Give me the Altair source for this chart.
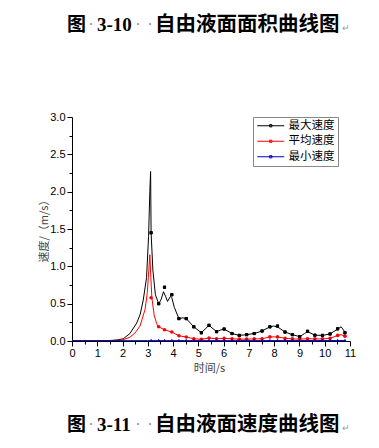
import altair as alt
import pandas as pd

# ---------------- data ----------------
SERIES = ["最大速度", "平均速度", "最小速度"]
COLORS = ["#000000", "#ff0000", "#0000cc"]
SHAPES = ["square", "circle", "triangle-up"]

# sample (marker) times
marker_t = [3.13, 3.43, 3.66, 3.95, 4.23, 4.52, 4.82, 5.12, 5.42, 5.72, 6.02, 6.33, 6.62, 6.91,
            7.21, 7.52, 7.83, 8.13, 8.43, 8.72, 9.01, 9.32, 9.61, 9.91, 10.21, 10.51, 10.8]
max_marker_v = [1.45, 0.50, 0.72, 0.62, 0.30, 0.30, 0.19, 0.11, 0.21, 0.125, 0.16, 0.10, 0.075, 0.085,
                0.10, 0.134, 0.19, 0.20, 0.12, 0.085, 0.058, 0.13, 0.078, 0.075, 0.094, 0.163, 0.11]
avg_marker_v = [0.58, 0.19, 0.15, 0.12, 0.07, 0.053, 0.03, 0.022, 0.04, 0.03, 0.035, 0.03, 0.025, 0.025,
                0.028, 0.03, 0.055, 0.055, 0.035, 0.028, 0.025, 0.03, 0.028, 0.028, 0.035, 0.075, 0.065]
min_marker_v = [0.012, 0.012, 0.012, 0.012, 0.012, 0.012, 0.012, 0.012, 0.012, 0.012, 0.012, 0.012, 0.012, 0.012,
                0.012, 0.012, 0.012, 0.012, 0.012, 0.012, 0.012, 0.012, 0.012, 0.012, 0.012, 0.012, 0.012]

# curve traces
max_line_t = [0, 1.0, 1.5, 1.8, 2.03, 2.29, 2.56, 2.7, 2.82, 2.95, 3.03, 3.08, 3.11, 3.13, 3.2, 3.3,
              3.43, 3.52, 3.62, 3.7, 3.78, 3.9, 3.95, 4.05, 4.23, 4.38, 4.52, 4.82, 5.12, 5.3, 5.42,
              5.72, 5.9, 6.02, 6.33, 6.62, 6.91, 7.21, 7.52, 7.83, 7.98, 8.13, 8.43, 8.72, 9.01, 9.2,
              9.32, 9.61, 9.91, 10.21, 10.51, 10.65, 10.8]
max_line_v = [0, 0.001, 0.006, 0.015, 0.03, 0.1, 0.24, 0.36, 0.55, 0.85, 1.4, 2.0, 2.27, 1.45, 0.95, 0.62,
              0.5, 0.55, 0.66, 0.6, 0.53, 0.6, 0.58, 0.45, 0.3, 0.31, 0.3, 0.19, 0.11, 0.17, 0.21,
              0.125, 0.15, 0.16, 0.10, 0.075, 0.085, 0.10, 0.134, 0.19, 0.2, 0.19, 0.12, 0.085, 0.058, 0.1,
              0.125, 0.078, 0.075, 0.094, 0.16, 0.19, 0.12]
avg_line_t = [0, 1.0, 1.5, 2.0, 2.29, 2.5, 2.69, 2.89, 2.98, 3.04, 3.08, 3.12, 3.16, 3.25, 3.35,
              3.43, 3.66, 3.95, 4.23, 4.52, 4.82, 5.12, 5.42, 5.72, 6.02, 6.33, 6.62, 6.91,
              7.21, 7.52, 7.83, 8.13, 8.43, 8.72, 9.01, 9.32, 9.61, 9.91, 10.21, 10.51, 10.65, 10.8]
avg_line_v = [0, 0.001, 0.003, 0.015, 0.05, 0.11, 0.2, 0.42, 0.65, 0.95, 1.155, 0.85, 0.58, 0.35, 0.23,
              0.19, 0.15, 0.12, 0.07, 0.053, 0.03, 0.022, 0.04, 0.03, 0.035, 0.03, 0.025, 0.025,
              0.028, 0.03, 0.055, 0.055, 0.035, 0.028, 0.025, 0.03, 0.028, 0.028, 0.035, 0.075, 0.085, 0.065]
min_line_t = [0, 3.0, 10.8]
min_line_v = [0.004, 0.005, 0.006]

x_ticks = [i * 0.5 for i in range(23)]
y_ticks = [i * 0.25 for i in range(13)]

# ---------------- tables ----------------
lines = pd.concat([
    pd.DataFrame({"t": max_line_t, "v": max_line_v, "s": SERIES[0], "o": range(len(max_line_t))}),
    pd.DataFrame({"t": avg_line_t, "v": avg_line_v, "s": SERIES[1], "o": range(len(avg_line_t))}),
    pd.DataFrame({"t": min_line_t, "v": min_line_v, "s": SERIES[2], "o": range(len(min_line_t))}),
])
marker_tables = [
    pd.DataFrame({"t": marker_t, "v": max_marker_v, "s": SERIES[0]}),
    pd.DataFrame({"t": marker_t, "v": avg_marker_v, "s": SERIES[1]}),
    pd.DataFrame({"t": marker_t, "v": min_marker_v, "s": SERIES[2]}),
]
marker_sizes = [9, 13, 11]

AXIS_FONT = "Liberation Sans"
CJK = "Noto Sans CJK SC"

x_scale = alt.Scale(domain=[0, 11], nice=False, zero=False)
y_scale = alt.Scale(domain=[0, 3], nice=False)


def x_axis():
    return alt.Axis(
        values=x_ticks, title="时间/s", grid=False,
        labelExpr="datum.value % 1 == 0 ? format(datum.value, 'd') : ''",
        tickSize={"condition": {"test": "datum.value % 1 == 0", "value": 5}, "value": 3},
        labelFont=AXIS_FONT, labelFontSize=11, labelColor="#000", labelPadding=1,
        titleFont=CJK, titleFontSize=11, titleColor="#444", titleFontWeight="normal",
        titleX=137, titleY=27, titleAnchor="middle", titleBaseline="middle",
        domainColor="#000", tickColor="#000", labelFlush=False, labelOverlap=False,
    )


def y_axis():
    return alt.Axis(
        values=y_ticks, title="速度/（m/s）", grid=False,
        labelExpr="datum.value % 0.5 == 0 ? format(datum.value, '.1f') : ''",
        tickSize={"condition": {"test": "datum.value % 0.5 == 0", "value": 5}, "value": 3},
        labelFont=AXIS_FONT, labelFontSize=11, labelColor="#000", labelPadding=2,
        titleFont=CJK, titleFontSize=11, titleColor="#444", titleFontWeight="normal",
        titleX=-28, titleY=111, titleAngle=-90, titleAnchor="middle", titleBaseline="middle",
        domainColor="#000", tickColor="#000", labelFlush=False, labelOverlap=False,
    )


def color_enc(legend):
    return alt.Color("s:N", scale=alt.Scale(domain=SERIES, range=COLORS), legend=legend)


line_layer = alt.Chart(lines).mark_line(strokeWidth=1, clip=True).encode(
    x=alt.X("t:Q", scale=x_scale, axis=x_axis()),
    y=alt.Y("v:Q", scale=y_scale, axis=y_axis()),
    color=color_enc(None),
    detail="s:N",
    order="o:Q",
)

point_layers = []
for tbl, shp, sz in zip(marker_tables, SHAPES, marker_sizes):
    point_layers.append(
        alt.Chart(tbl).mark_point(filled=True, opacity=1, size=sz, shape=shp).encode(
            x=alt.X("t:Q", scale=x_scale, axis=x_axis()),
            y=alt.Y("v:Q", scale=y_scale, axis=y_axis()),
            color=color_enc(None),
        )
    )

legend = alt.Legend(
    title=None, orient="none", legendX=181, legendY=0,
    symbolType="M-1,0H5M1.75,-0.25H2.25V0.25H1.75Z",
    symbolSize=81, symbolStrokeWidth=1,
    labelFont=CJK, labelFontSize=11.5, labelColor="#000", labelOffset=21,
    padding=3, strokeColor="#888", fillColor="#fff", rowPadding=2.5,
)
# thin outline squares over the black markers; this layer carries the legend
legend_layer = alt.Chart(marker_tables[0]).mark_point(
    filled=False, opacity=1, size=5, shape="square", strokeWidth=1
).encode(
    x=alt.X("t:Q", scale=x_scale, axis=x_axis()),
    y=alt.Y("v:Q", scale=y_scale, axis=y_axis()),
    color=color_enc(legend),
)


def caption_piece(text, x, y, size, color="#000", weight="bold", font=CJK):
    return alt.Chart(alt.Data(values=[{}])).mark_text(
        text=text, align="left", baseline="middle", font=font, fontSize=size,
        fontWeight=weight, color=color,
    ).encode(x=alt.value(x), y=alt.value(y))


def caption(num, name, y):
    return [
        caption_piece("图", -5, y, 19),
        caption_piece("·", 14, y, 10, color="#999", weight="normal"),
        caption_piece(num, 25, y, 19, font="Liberation Serif"),
        caption_piece("·", 61, y, 10, color="#999", weight="normal"),
        caption_piece("·", 73, y, 10, color="#999", weight="normal"),
        caption_piece(name, 83, y, 20.5),
        caption_piece("↵", 270, y + 3, 9, color="#999", weight="normal"),
    ]


chart = alt.layer(
    line_layer, *point_layers, legend_layer,
    *caption("3-10", "自由液面面积曲线图", -92),
    *caption("3-11", "自由液面速度曲线图", 308),
).resolve_scale(color="independent").properties(
    width=278, height=224,
    autosize=alt.AutoSizeParams(type="none"),
    padding={"left": 64, "top": 109, "right": 21, "bottom": 99},
    background="#ffffff",
).configure_view(strokeWidth=0)

chart.save("out.html", embed_options={"renderer": "svg", "actions": False})
